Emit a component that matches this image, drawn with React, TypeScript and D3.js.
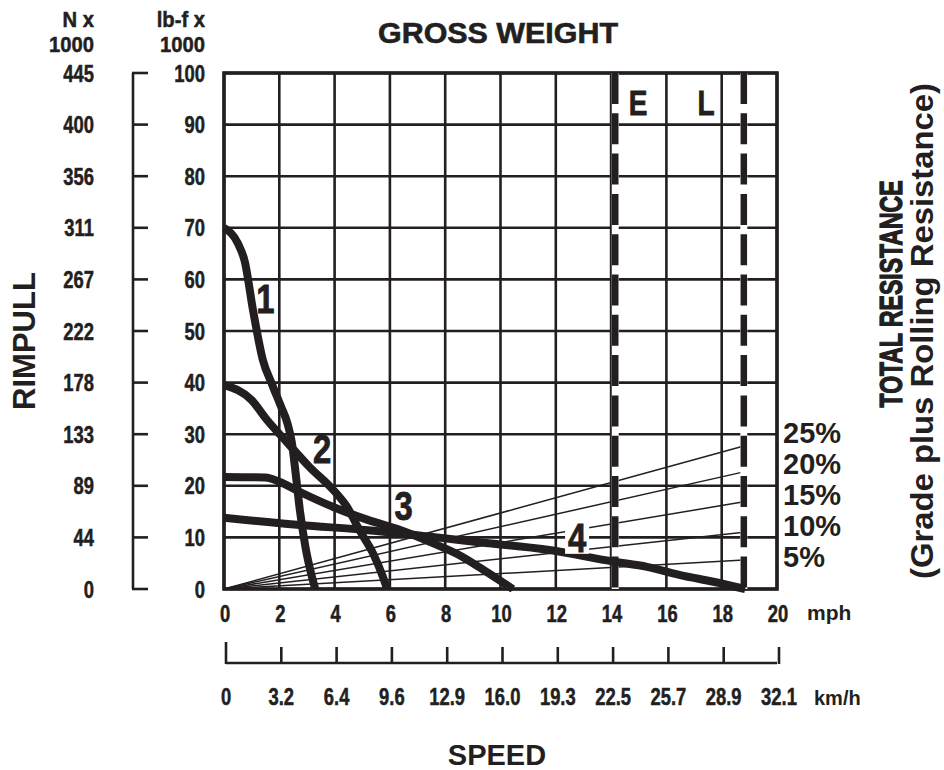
import React from "react";
import * as d3 from "d3";

// Speed axis (mph) and rimpull axis (lb-f x 1000)
const mphTicks = [0, 2, 4, 6, 8, 10, 12, 14, 16, 18, 20];
const kmhLabels = ["0", "3.2", "6.4", "9.6", "12.9", "16.0", "19.3", "22.5", "25.7", "28.9", "32.1"];
const lbfTicks = [0, 10, 20, 30, 40, 50, 60, 70, 80, 90, 100];
const newtonLabels = ["0", "44", "89", "133", "178", "222", "267", "311", "356", "400", "445"];

// Rimpull curves per gear: [mph, lb-f x 1000]
const gear1: [number, number][] = [
  [0, 70], [0.5, 67], [0.75, 63.5], [1.05, 54], [1.4, 44.5], [1.75, 39.5], [2.05, 35.5],
  [2.3, 32], [2.45, 28.5], [2.6, 22], [2.75, 15], [2.95, 8], [3.15, 3], [3.3, 0],
];
const gear2: [number, number][] = [
  [0, 39.5], [1, 36.6], [1.55, 32.8], [2.3, 28.3], [3.1, 23.6], [3.95, 19.2], [4.45, 15.9],
  [4.9, 11.4], [5.4, 6.8], [5.75, 2.3], [5.9, 0],
];
const gear3: [number, number][] = [
  [0, 21.7], [1.5, 21.6], [2.0, 20.8], [2.75, 18.8], [3.95, 15.9], [5.2, 13.4], [6.4, 11.4],
  [7.55, 8.9], [8.5, 6.6], [9.3, 4.0], [9.9, 1.9], [10.45, 0],
];
const gear4: [number, number][] = [
  [0, 13.8], [2.75, 12.4], [5.2, 11.4], [7.55, 10.1], [9.3, 9.0], [11.7, 7.6], [14.1, 5.3],
  [15.3, 4.3], [16.5, 2.7], [17.7, 1.4], [18.85, 0],
];
const gears = [gear1, gear2, gear3, gear4];
const gearNames = ["1", "2", "3", "4"];
// label anchor for each gear number [mph, lb-f]
const gearLabelAt: [number, number][] = [[1.5, 53.5], [3.55, 24.4], [6.5, 13.4], [12.77, 7.2]];

// Total resistance lines, from the origin to the L speed limit
const gradeLabels = ["25%", "20%", "15%", "10%", "5%"];
const gradeEnds = [27.7, 22.7, 16.9, 11.0, 5.6];
const gradeEndSpeed = 18.8;

// Speed limit markers
const limitNames = ["E", "L"];
const limitSpeeds = [14.15, 18.8];

const SANS = "'Liberation Sans', Arial, Helvetica, sans-serif";
const INK = "#231f20";

// Bold text horizontally condensed, in the style of a condensed grotesque
function NText(props: {
  x: number;
  y: number;
  size: number;
  anchor?: "start" | "middle" | "end";
  squeeze?: number;
  weight?: number;
  children: React.ReactNode;
}) {
  const { x, y, size, anchor = "middle", squeeze = 0.8, weight = 0.5, children } = props;
  return (
    <text
      transform={`translate(${x},${y}) scale(${squeeze},1)`}
      textAnchor={anchor}
      fontFamily={SANS}
      fontWeight="bold"
      fontSize={size}
      fill={INK}
      stroke={INK}
      strokeWidth={weight}
    >
      {children}
    </text>
  );
}

export default function App() {
  const x = d3.scaleLinear().domain([0, 20]).range([224, 777]);
  const y = d3.scaleLinear().domain([0, 100]).range([589, 73]);
  const line = d3
    .line<[number, number]>()
    .x((d) => x(d[0]))
    .y((d) => y(d[1]))
    .curve(d3.curveMonotoneX);

  const [x0, x1] = x.range();
  const [yb, yt] = y.range();
  const kmhY = 663;

  return (
    <svg
      width={944}
      height={770}
      style={{ position: "absolute", left: 0, top: 0, background: "#fff" }}
    >
      <rect width={944} height={770} fill="#fff" />

      {/* grid */}
      {lbfTicks.map((t) => (
        <line key={"h" + t} x1={x0} x2={x1} y1={y(t)} y2={y(t)} stroke={INK} strokeWidth={2.6} />
      ))}
      {mphTicks.map((t) => (
        <line key={"v" + t} x1={x(t)} x2={x(t)} y1={yt} y2={yb} stroke={INK} strokeWidth={2.6} />
      ))}
      <rect x={x0} y={yt} width={x1 - x0} height={yb - yt} fill="none" stroke={INK} strokeWidth={3.6} />

      {/* grade resistance lines */}
      {gradeEnds.map((g, i) => (
        <line
          key={"g" + i}
          x1={x(0)}
          y1={y(0)}
          x2={x(gradeEndSpeed)}
          y2={y(g)}
          stroke={INK}
          strokeWidth={1.5}
        />
      ))}

      {/* speed limit dashed lines */}
      {limitSpeeds.map((s, i) => (
        <g key={"lim" + i}>
          <line x1={x(s)} x2={x(s)} y1={yt} y2={yb} stroke="#fff" strokeWidth={7} />
          <line
            x1={x(s)}
            x2={x(s)}
            y1={yt}
            y2={yb}
            stroke={INK}
            strokeWidth={6.5}
            strokeDasharray="31 9.3"
          />
        </g>
      ))}
      {limitNames.map((n, i) => (
        <NText key={"ln" + n} x={i === 0 ? 638 : 706} y={115} size={35} weight={0.8}>
          {n}
        </NText>
      ))}

      {/* rimpull curves */}
      {gears.map((g, i) => (
        <path
          key={"c" + i}
          d={line(g) || ""}
          fill="none"
          stroke={INK}
          strokeWidth={8}
          strokeLinejoin="round"
          strokeLinecap="butt"
        />
      ))}
      {gearLabelAt.map((p, i) => (
        <g key={"gl" + i}>
          {i === 3 && <rect x={x(p[0]) - 12} y={y(p[1]) - 31} width={24} height={33} fill="#fff" />}
          <NText x={x(p[0])} y={y(p[1])} size={41} weight={0.9}>
            {gearNames[i]}
          </NText>
        </g>
      ))}

      {/* left rimpull axes */}
      <line x1={133} x2={133} y1={yt} y2={yb} stroke={INK} strokeWidth={2.6} />
      {lbfTicks.map((t, i) => (
        <g key={"lt" + t}>
          <line x1={132} x2={148} y1={y(t)} y2={y(t)} stroke={INK} strokeWidth={2.6} />
          <NText x={205} y={y(t) + 8.5} size={23} anchor="end">
            {t}
          </NText>
          <NText x={94} y={y(t) + 8.5} size={23} anchor="end">
            {newtonLabels[i]}
          </NText>
        </g>
      ))}
      <NText x={94} y={27} size={22} squeeze={0.92} anchor="end">N x</NText>
      <NText x={94} y={52} size={22} squeeze={0.92} anchor="end">1000</NText>
      <NText x={205} y={27} size={22} squeeze={0.92} anchor="end">lb-f x</NText>
      <NText x={205} y={52} size={22} squeeze={0.92} anchor="end">1000</NText>

      {/* mph axis labels */}
      {mphTicks.map((t) => (
        <NText key={"mx" + t} x={x(t) + 1} y={622} size={23}>
          {t}
        </NText>
      ))}
      <text x={807} y={620} fontFamily={SANS} fontWeight="bold" fontSize={21} fill={INK}>
        mph
      </text>

      {/* km/h axis */}
      <line x1={x0 + 2} x2={x1} y1={kmhY} y2={kmhY} stroke={INK} strokeWidth={2.6} />
      {mphTicks.map((t, i) => (
        <g key={"kt" + t}>
          <line
            x1={x(t) + 2}
            x2={x(t) + 2}
            y1={i === 0 ? kmhY - 21 : kmhY - 16}
            y2={kmhY + 1}
            stroke={INK}
            strokeWidth={2.6}
          />
          <NText x={x(t) + 2} y={705} size={23}>
            {kmhLabels[i]}
          </NText>
        </g>
      ))}
      <text x={814} y={705} fontFamily={SANS} fontWeight="bold" fontSize={20} fill={INK}>
        km/h
      </text>

      {/* grade labels */}
      {gradeLabels.map((l, i) => (
        <text
          key={"gp" + l}
          x={783}
          y={443 + i * 31}
          fontFamily={SANS}
          fontWeight="bold"
          fontSize={29}
          fill={INK}
        >
          {l}
        </text>
      ))}

      {/* titles */}
      <text
        x={498}
        y={43}
        textAnchor="middle"
        fontFamily={SANS}
        fontWeight="bold"
        fontSize={29}
        textLength={240}
        lengthAdjust="spacingAndGlyphs"
        stroke={INK}
        strokeWidth={0.6}
        fill={INK}
      >
        GROSS WEIGHT
      </text>
      <text
        transform="translate(35,341) rotate(-90)"
        textAnchor="middle"
        fontFamily={SANS}
        fontWeight="bold"
        fontSize={31}
        fill={INK}
      >
        RIMPULL
      </text>
      <text
        x={497}
        y={765}
        textAnchor="middle"
        fontFamily={SANS}
        fontWeight="bold"
        fontSize={29}
        fill={INK}
      >
        SPEED
      </text>
      <text
        transform="translate(902,294) rotate(-90)"
        textAnchor="middle"
        fontFamily={SANS}
        fontWeight="bold"
        fontSize={32}
        textLength={227}
        lengthAdjust="spacingAndGlyphs"
        stroke={INK}
        strokeWidth={1.3}
        fill={INK}
      >
        TOTAL RESISTANCE
      </text>
      <text
        transform="translate(933,331) rotate(-90)"
        textAnchor="middle"
        fontFamily={SANS}
        fontWeight="bold"
        fontSize={32}
        textLength={496}
        lengthAdjust="spacingAndGlyphs"
        fill={INK}
      >
        (Grade plus Rolling Resistance)
      </text>
    </svg>
  );
}
